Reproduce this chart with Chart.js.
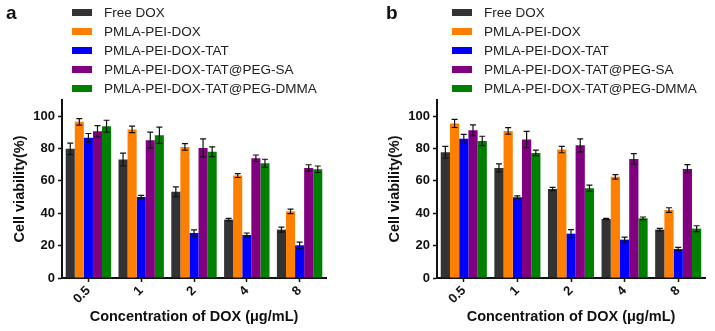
<!DOCTYPE html>
<html>
<head>
<meta charset="utf-8">
<script src="https://cdn.jsdelivr.net/npm/chart.js@4"></script>
<style>
  body { margin: 0; background: #fff; }
  #wrap { position: relative; width: 715px; height: 331px; overflow: hidden; font-family: "Liberation Sans", Arial, sans-serif; }
  .panel { position: absolute; top: 0; height: 331px; }
  .tag { position: absolute; font-weight: bold; font-size: 19px; color: #111; }
  .legend { position: absolute; top: 3px; margin: 0; padding: 0; list-style: none; font-size: 13.5px; color: #222; }
  .legend li { height: 19px; line-height: 19px; display: flex; align-items: center; white-space: nowrap; }
  .legend .box { display: inline-block; width: 20px; height: 7px; margin-right: 12px; }
</style>
</head>
<body>
<div id="wrap">
  <div class="panel" style="left:0;width:357px"><canvas id="chartA" width="357" height="331"></canvas></div>
  <div class="panel" style="left:357px;width:358px"><canvas id="chartB" width="358" height="331"></canvas></div>
  <div class="tag" style="left:6px;top:2px">a</div>
  <div class="tag" style="left:386px;top:2px">b</div>
  <ul class="legend" id="legendA" style="left:72px"></ul>
  <ul class="legend" id="legendB" style="left:452px"></ul>
</div>
<script>
// categories and series
var doses = ['0.5', '1', '2', '4', '8'];
var seriesNames = ['Free DOX', 'PMLA-PEI-DOX', 'PMLA-PEI-DOX-TAT', 'PMLA-PEI-DOX-TAT@PEG-SA', 'PMLA-PEI-DOX-TAT@PEG-DMMA'];
var seriesColors = ['#333333', '#ff8000', '#0000ff', '#800080', '#008000'];
var yTicks = [0, 20, 40, 60, 80, 100];

// panel a (mean, sd)
var freeDoxA = [79.8, 73.2, 53.3, 36.1, 29.9];
var pmlaA    = [96.5, 91.8, 81.0, 63.3, 41.2];
var tatA     = [86.6, 50.1, 27.8, 26.6, 20.2];
var saA      = [90.7, 85.2, 80.4, 74.0, 68.0];
var dmmaA    = [93.8, 88.2, 78.0, 70.9, 67.2];
var freeDoxErrA = [3.5, 4.0, 3.0, 0.8, 1.6];
var pmlaErrA    = [2.0, 2.0, 2.0, 1.2, 1.4];
var tatErrA     = [2.7, 1.0, 2.0, 1.2, 2.0];
var saErrA      = [3.5, 5.0, 5.6, 2.0, 2.0];
var dmmaErrA    = [3.7, 5.0, 3.0, 2.5, 2.0];

// panel b (mean, sd)
var freeDoxB = [77.7, 68.0, 55.0, 36.5, 29.9];
var pmlaB    = [95.5, 90.9, 79.4, 62.5, 42.0];
var tatB     = [86.0, 49.9, 27.4, 23.7, 17.9];
var saB      = [91.3, 85.6, 82.0, 73.6, 67.4];
var dmmaB    = [84.7, 77.3, 55.5, 36.9, 30.5];
var freeDoxErrB = [3.7, 2.5, 1.0, 0.4, 0.8];
var pmlaErrB    = [2.5, 2.0, 2.0, 1.4, 1.4];
var tatErrB     = [2.7, 0.8, 2.5, 1.6, 1.0];
var saErrB      = [3.3, 5.0, 4.0, 3.3, 2.7];
var dmmaErrB    = [2.9, 1.7, 1.9, 0.8, 1.8];

var boldFont = { family: '"Liberation Sans", Arial, sans-serif', weight: 'bold' };

var errorBars = {
  id: 'errorBars',
  afterDatasetsDraw: function(chart) {
    var ctx = chart.ctx;
    var y = chart.scales.y;
    ctx.save();
    ctx.strokeStyle = '#111';
    ctx.lineWidth = 1.2;
    chart.data.datasets.forEach(function(ds, i) {
      var meta = chart.getDatasetMeta(i);
      meta.data.forEach(function(bar, j) {
        var v = ds.data[j], e = ds.errors[j];
        var top = y.getPixelForValue(v + e), bot = y.getPixelForValue(v - e);
        ctx.beginPath();
        ctx.moveTo(bar.x, top); ctx.lineTo(bar.x, bot);
        ctx.moveTo(bar.x - 3, top); ctx.lineTo(bar.x + 3, top);
        ctx.moveTo(bar.x - 3, bot); ctx.lineTo(bar.x + 3, bot);
        ctx.stroke();
      });
    });
    ctx.restore();
  }
};

function makePanel(id, legendId, values, errors, padLeft, padRight) {
  var chart = new Chart(document.getElementById(id), {
    type: 'bar',
    data: {
      labels: doses,
      datasets: seriesNames.map(function(name, i) {
        return {
          label: name,
          data: values[i],
          errors: errors[i],
          backgroundColor: seriesColors[i],
          borderWidth: 0,
          barPercentage: 1,
          categoryPercentage: 0.86
        };
      })
    },
    options: {
      responsive: false,
      animation: false,
      layout: { padding: { top: 100, left: padLeft, right: padRight, bottom: 0 } },
      plugins: { legend: { display: false }, tooltip: { enabled: false } },
      scales: {
        x: {
          afterFit: function(s) { s.height = 53; },
          border: { color: '#111', width: 2 },
          grid: { drawOnChartArea: false, offset: false, tickLength: 4, color: '#111', tickWidth: 1.5 },
          ticks: { color: '#111', font: Object.assign({ size: 13 }, boldFont), minRotation: 45, maxRotation: 45, padding: 1 },
          title: { display: true, text: 'Concentration of DOX (μg/mL)', color: '#111', font: Object.assign({ size: 14.5 }, boldFont), padding: { top: 0, bottom: 5 } }
        },
        y: {
          min: 0,
          max: 110,
          afterFit: function(s) { s.width = 62; },
          afterBuildTicks: function(s) { s.ticks = yTicks.map(function(v) { return { value: v }; }); },
          border: { color: '#111', width: 2 },
          grid: { drawOnChartArea: false, tickLength: 4, color: '#111', tickWidth: 1.5 },
          ticks: { color: '#111', font: Object.assign({ size: 13 }, boldFont), padding: 3 },
          title: { display: true, text: 'Cell viability(%)', color: '#111', font: Object.assign({ size: 14.5 }, boldFont), padding: { top: 11, bottom: 0 } }
        }
      }
    },
    plugins: [errorBars]
  });

  var ul = document.getElementById(legendId);
  chart.data.datasets.forEach(function(ds) {
    var li = document.createElement('li');
    var box = document.createElement('span');
    box.className = 'box';
    box.style.background = ds.backgroundColor;
    li.appendChild(box);
    li.appendChild(document.createTextNode(ds.label));
    ul.appendChild(li);
  });
  return chart;
}

makePanel('chartA', 'legendA',
  [freeDoxA, pmlaA, tatA, saA, dmmaA],
  [freeDoxErrA, pmlaErrA, tatErrA, saErrA, dmmaErrA], 0, 31);
makePanel('chartB', 'legendB',
  [freeDoxB, pmlaB, tatB, saB, dmmaB],
  [freeDoxErrB, pmlaErrB, tatErrB, saErrB, dmmaErrB], 18, 10);
</script>
</body>
</html>
